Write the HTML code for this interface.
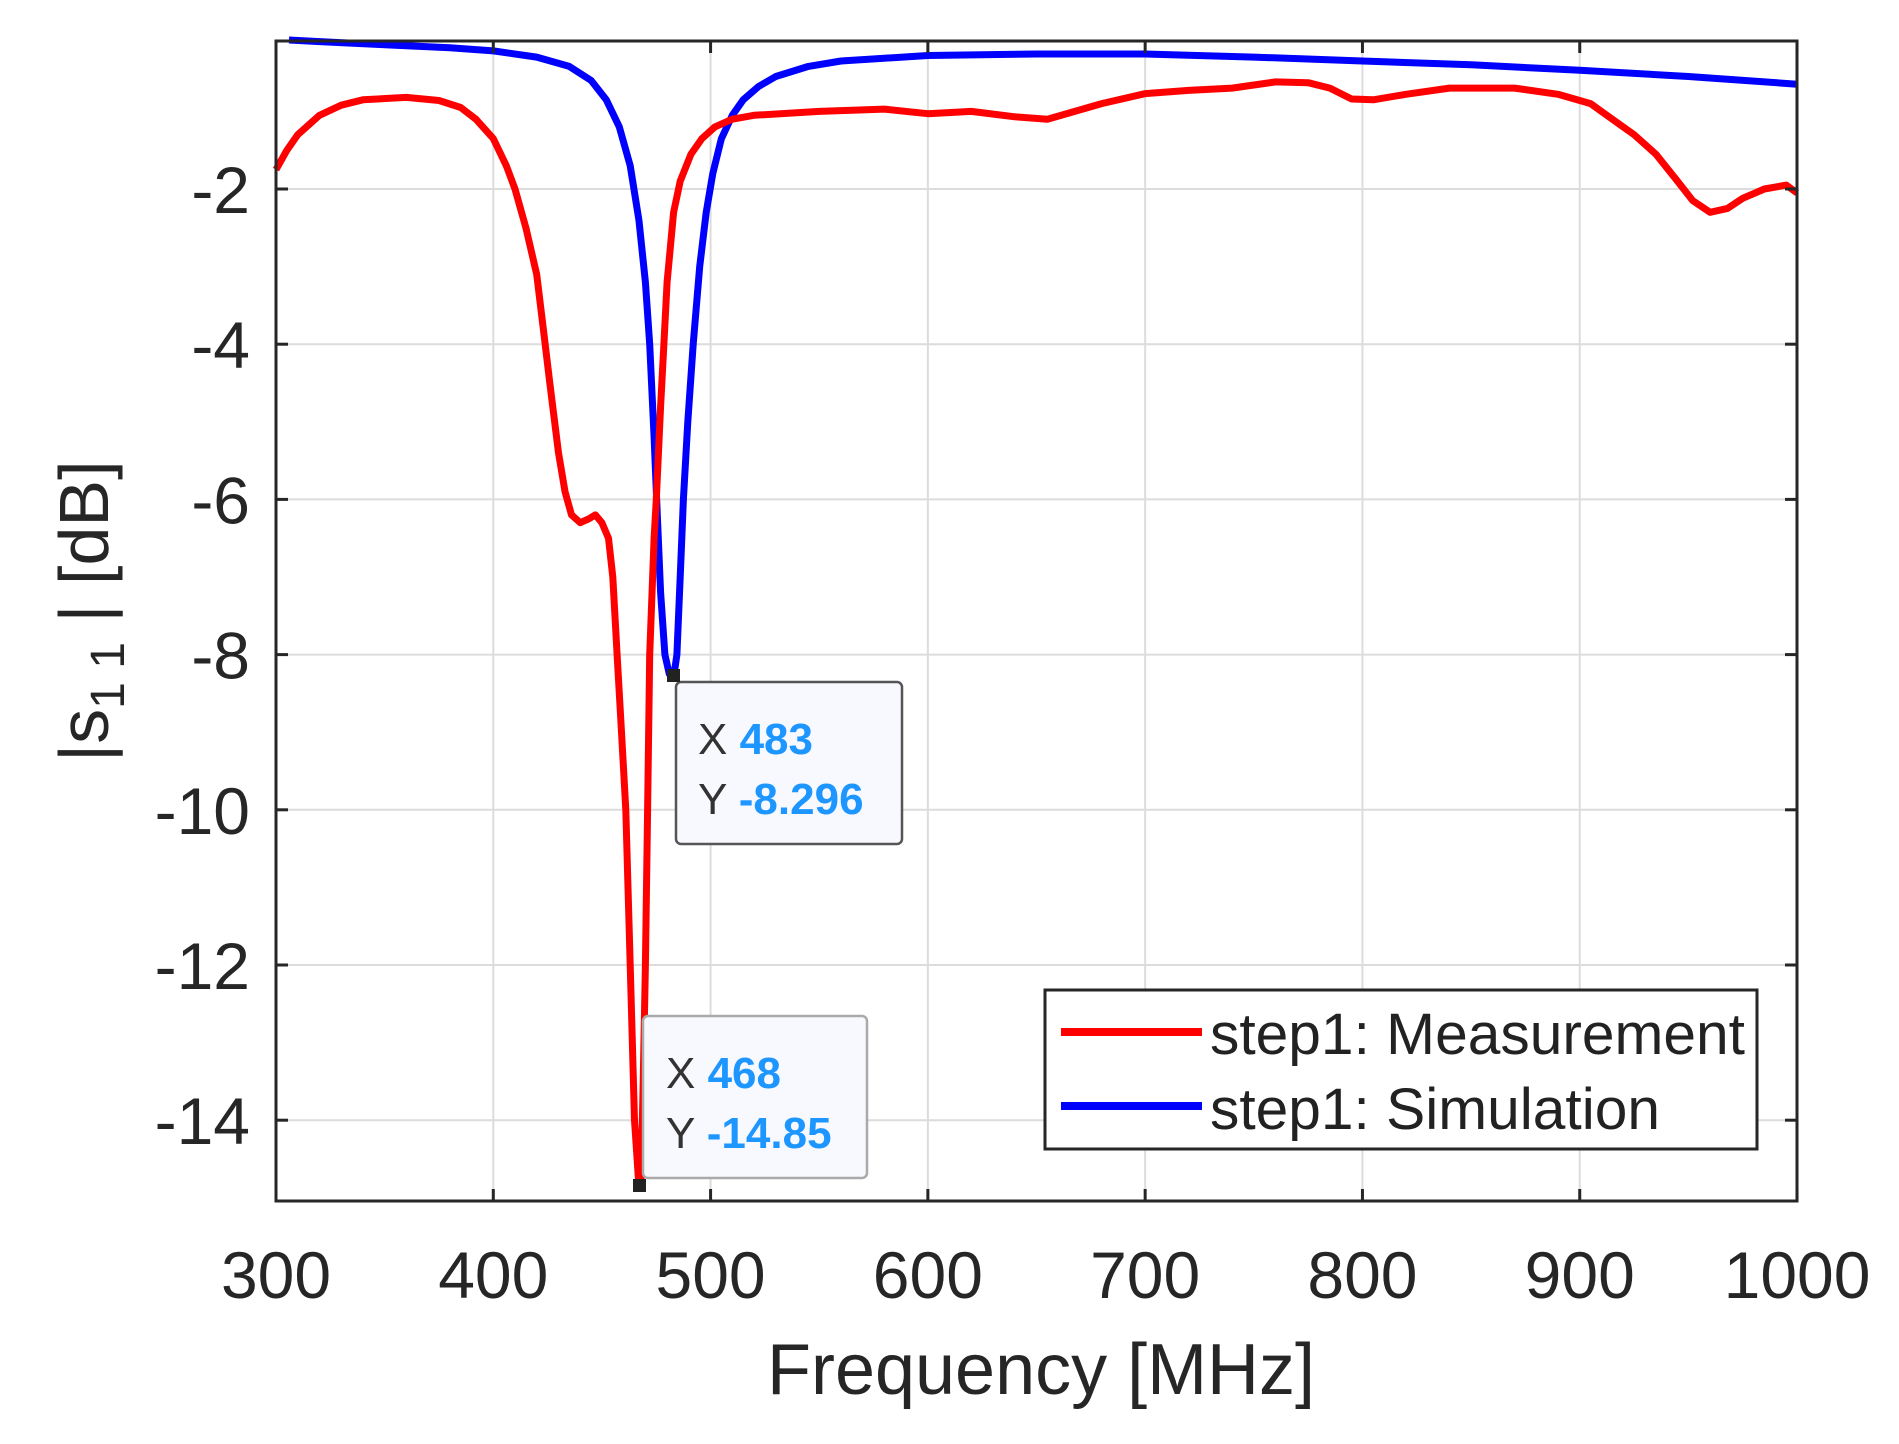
<!DOCTYPE html>
<html><head><meta charset="utf-8"><style>
html,body{margin:0;padding:0;background:#fff;}
svg{display:block;}
text{font-family:"Liberation Sans",sans-serif;}
</style></head><body>
<svg id="s" width="1899" height="1444" viewBox="0 0 1899 1444" xmlns="http://www.w3.org/2000/svg">
<rect width="1899" height="1444" fill="#fff"/>
<g id="grid" stroke="#dcdcdc" stroke-width="2"></g>
<g id="curves" fill="none" stroke-width="7" stroke-linejoin="round"></g>
<rect x="276" y="41" width="1521" height="1160" fill="none" stroke="#262626" stroke-width="3"/>
<g id="ticks" stroke="#262626" stroke-width="3"></g>
<g id="labels" font-size="66" fill="#262626"></g>
<text x="1041" y="1394" font-size="72" fill="#262626" text-anchor="middle" textLength="548" lengthAdjust="spacingAndGlyphs">Frequency [MHz]</text>
<text transform="translate(108,762) rotate(-90)" font-size="70" fill="#262626">|s<tspan font-size="48" dy="16">1 1</tspan><tspan dy="-16"> | [dB]</tspan></text>
<!-- datatip 1 -->
<rect x="676" y="682" width="226" height="162" rx="5" fill="#f8f8ff" stroke="#555" stroke-width="2.5"/>
<text x="698" y="754" font-size="44" fill="#333">X <tspan fill="#1e96ff" font-weight="bold">483</tspan></text>
<text x="698" y="814" font-size="44" fill="#333">Y <tspan fill="#1e96ff" font-weight="bold">-8.296</tspan></text>
<rect x="667" y="669" width="13" height="13" fill="#222"/>
<!-- datatip 2 -->
<rect x="643" y="1016" width="224" height="162" rx="5" fill="#f8f8ff" stroke="#aaa" stroke-width="2.5"/>
<text x="666" y="1088" font-size="44" fill="#333">X <tspan fill="#1e96ff" font-weight="bold">468</tspan></text>
<text x="666" y="1148" font-size="44" fill="#333">Y <tspan fill="#1e96ff" font-weight="bold">-14.85</tspan></text>
<rect x="633" y="1179" width="13" height="13" fill="#222"/>
<!-- legend -->
<rect x="1045" y="990" width="712" height="159" fill="#fff" stroke="#262626" stroke-width="3"/>
<line x1="1061" y1="1032" x2="1202" y2="1032" stroke="#ff0000" stroke-width="8"/>
<line x1="1061" y1="1106" x2="1202" y2="1106" stroke="#0000ff" stroke-width="8"/>
<text x="1210" y="1054" font-size="58" fill="#222" textLength="535" lengthAdjust="spacingAndGlyphs">step1: Measurement</text>
<text x="1210" y="1129" font-size="58" fill="#222" textLength="450" lengthAdjust="spacingAndGlyphs">step1: Simulation</text>
</svg>
<script>
var NS="http://www.w3.org/2000/svg";
function X(f){return 276+(f-300)*2.1729;}
function Y(v){return 189+(-2-v)*77.6;}
function el(p,n,a){var e=document.createElementNS(NS,n);for(var k in a)e.setAttribute(k,a[k]);p.appendChild(e);return e;}
var g=document.getElementById('grid'),t=document.getElementById('ticks'),L=document.getElementById('labels');
for(var f=400;f<=900;f+=100){el(g,'line',{x1:X(f),y1:41,x2:X(f),y2:1201});}
for(var v=-14;v<=-2;v+=2){el(g,'line',{x1:276,y1:Y(v),x2:1797,y2:Y(v)});}
for(var f=300;f<=1000;f+=100){el(t,'line',{x1:X(f),y1:1201,x2:X(f),y2:1189});el(t,'line',{x1:X(f),y1:41,x2:X(f),y2:53});
 var tx=el(L,'text',{x:X(f),y:1298,'text-anchor':'middle'});tx.textContent=f;}
for(var v=-14;v<=-2;v+=2){el(t,'line',{x1:276,y1:Y(v),x2:288,y2:Y(v)});el(t,'line',{x1:1797,y1:Y(v),x2:1785,y2:Y(v)});
 var ty=el(L,'text',{x:250,y:Y(v)+24,'text-anchor':'end'});ty.textContent=v;}
var red=[[300,-1.75],[305,-1.5],[310,-1.3],[320,-1.05],[330,-0.92],[340,-0.85],[360,-0.82],[375,-0.86],[385,-0.95],[392,-1.1],[400,-1.35],[406,-1.7],[410,-2.0],[415,-2.5],[420,-3.1],[423,-3.8],[426,-4.5],[430,-5.4],[433,-5.9],[436,-6.2],[440,-6.3],[444,-6.25],[447,-6.2],[450,-6.3],[453,-6.5],[455,-7.0],[457,-8],[459,-9],[461,-10],[463,-12],[465,-14],[467,-14.85],[468,-14.85],[469,-13.5],[470,-12],[471,-10],[472,-8],[474,-6.5],[475,-6],[477,-4.8],[478.5,-4],[480,-3.2],[483,-2.3],[486,-1.9],[491,-1.55],[496,-1.35],[502,-1.2],[510,-1.1],[520,-1.05],[550,-1.0],[580,-0.97],[600,-1.03],[620,-1.0],[640,-1.07],[655,-1.1],[665,-1.02],[680,-0.9],[700,-0.77],[720,-0.73],[740,-0.7],[760,-0.62],[775,-0.63],[785,-0.7],[795,-0.84],[805,-0.85],[820,-0.78],[840,-0.7],[870,-0.7],[890,-0.78],[905,-0.9],[915,-1.1],[925,-1.3],[935,-1.55],[945,-1.9],[952,-2.15],[960,-2.3],[968,-2.25],[975,-2.12],[985,-2.0],[995,-1.95],[1000,-2.05]];
var blue=[[306,-0.08],[320,-0.1],[350,-0.14],[380,-0.18],[400,-0.22],[420,-0.3],[435,-0.42],[445,-0.6],[452,-0.85],[458,-1.2],[463,-1.7],[467,-2.4],[470,-3.2],[472,-4.0],[474,-5.2],[475.5,-6.2],[477,-7.2],[479,-8.0],[481,-8.25],[483,-8.3],[484.5,-8.0],[486,-7.0],[487.5,-6.0],[489.5,-5.0],[492,-4.0],[495,-3.0],[498,-2.3],[501,-1.8],[505,-1.35],[510,-1.05],[515,-0.85],[522,-0.68],[530,-0.55],[545,-0.42],[560,-0.35],[600,-0.28],[650,-0.26],[700,-0.26],[750,-0.3],[800,-0.35],[850,-0.4],[900,-0.47],[950,-0.55],[1000,-0.65]];
function path(d,c){var s='';d.forEach(function(p,i){s+=(i?'L':'M')+X(p[0]).toFixed(1)+' '+Y(p[1]).toFixed(1);});
 el(document.getElementById('curves'),'path',{d:s,stroke:c});}
path(blue,'#0000ff');path(red,'#ff0000');
</script>
</body></html>
